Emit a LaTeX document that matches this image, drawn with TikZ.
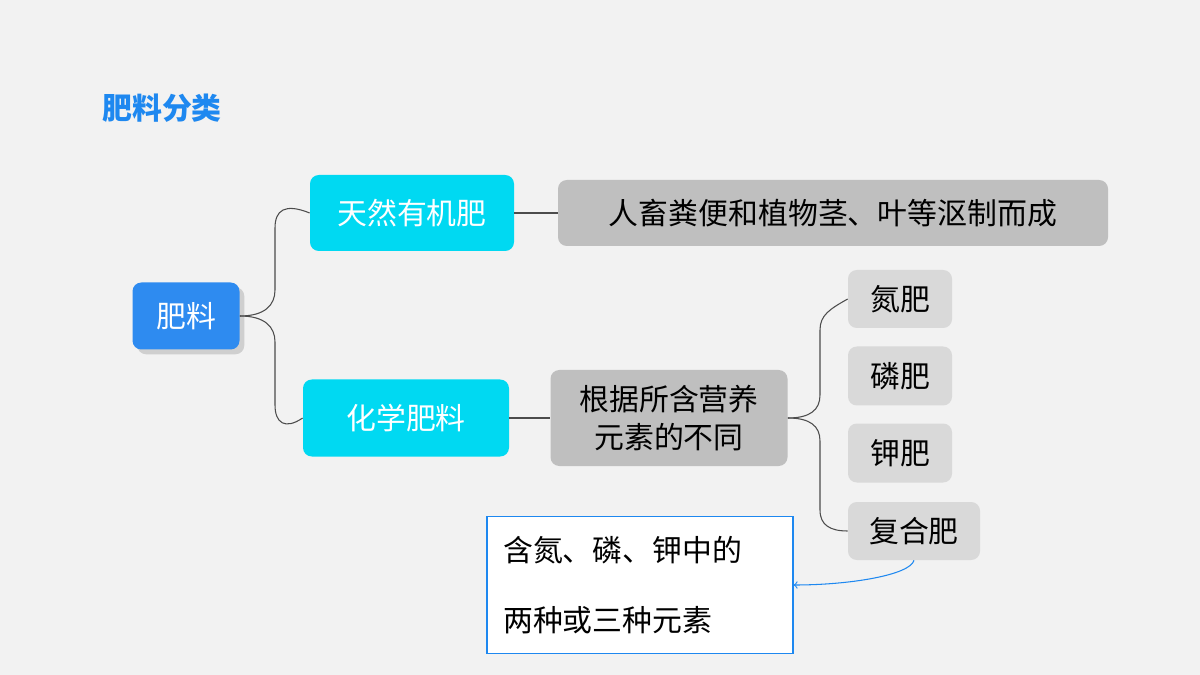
\documentclass[tikz,border=0pt]{standalone}
\usepackage{fontspec}
\setmainfont{Noto Sans CJK SC}
\usetikzlibrary{shadows}
\definecolor{bg}{HTML}{F2F2F2}
\definecolor{bl}{HTML}{2E8BF0}
\definecolor{cy}{HTML}{00D9F2}
\definecolor{gr}{HTML}{BFBFBF}
\definecolor{lg}{HTML}{D9D9D9}
\definecolor{tb}{HTML}{1E88F0}
\begin{document}
\begin{tikzpicture}[x=0.02cm,y=-0.02cm,
 box/.style={rounded corners=5pt,inner sep=0pt,font=\fontsize{17}{22}\selectfont},
 con/.style={draw=black!70,line width=0.6pt}]
\fill[bg] (0,0) rectangle (1200,675);
\useasboundingbox (0,0) rectangle (1200,675);
\node[text=tb,font=\bfseries\fontsize{17}{20}\selectfont] (t) at (162,108) {肥料分类};
\node[box,fill=bl,text=white,minimum width=107*0.02cm,minimum height=67*0.02cm,drop shadow={opacity=0.3}] (f) at (186,316) {肥料};
\node[box,fill=cy,text=white,minimum width=204*0.02cm,minimum height=76*0.02cm] (a) at (412,213) {天然有机肥};
\node[box,fill=cy,text=white,minimum width=206*0.02cm,minimum height=77*0.02cm] (b) at (406,418) {化学肥料};
\node[box,fill=gr,minimum width=550*0.02cm,minimum height=66*0.02cm] (c) at (833,213) {人畜粪便和植物茎、叶等沤制而成};
\node[box,fill=gr,minimum width=237*0.02cm,minimum height=96*0.02cm,align=center] (d) at (669,418) {根据所含营养\\元素的不同};
\node[box,fill=lg,minimum width=104*0.02cm,minimum height=58*0.02cm] (n) at (900,299) {氮肥};
\node[box,fill=lg,minimum width=104*0.02cm,minimum height=59*0.02cm] (p) at (900,376) {磷肥};
\node[box,fill=lg,minimum width=104*0.02cm,minimum height=59*0.02cm] (k) at (900,453) {钾肥};
\node[box,fill=lg,minimum width=132*0.02cm,minimum height=58*0.02cm] (m) at (914,531) {复合肥};
\node[draw=tb,line width=0.8pt,fill=white,minimum width=306*0.02cm,minimum height=137*0.02cm,inner sep=0pt] (e) at (640,585) {};
\node[anchor=west,align=left,font=\fontsize{17}{40}\selectfont] (et) at (497,585) {含氮、磷、钾中的\\两种或三种元素};
\draw[con] (f.east) .. controls (265,316) and (275,305) .. (275,290) -- (275,228) .. controls (275,210) and (285,203) .. (a.west);
\draw[con] (f.east) .. controls (265,316) and (275,327) .. (275,342) -- (275,405) .. controls (275,423) and (285,430) .. (b.west);
\draw[con] (a.east) -- (c.west);
\draw[con] (b.east) -- (d.west);
\draw[con] (d.east) .. controls (810,418) and (820,410) .. (820,395) -- (820,330) .. controls (820,315) and (830,309) .. (n.west);
\draw[con] (d.east) .. controls (810,418) and (820,426) .. (820,441) -- (820,510) .. controls (820,525) and (830,531) .. (m.west);
\draw[tb,line width=0.6pt,->] (m.south) .. controls (910,575) and (850,585) .. (e.east);
\end{tikzpicture}
\end{document}
